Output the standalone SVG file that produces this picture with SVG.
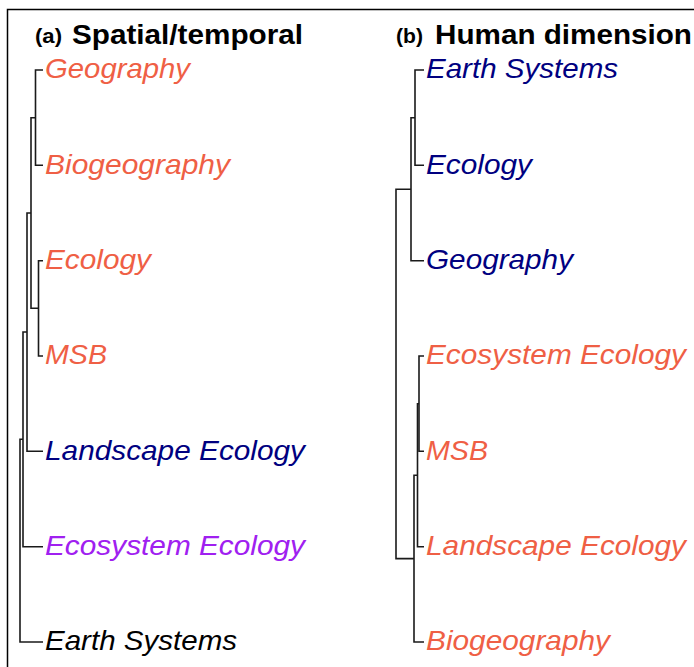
<svg xmlns="http://www.w3.org/2000/svg" width="694" height="667" viewBox="0 0 694 667">
<style>
.lbl{font-family:"Liberation Sans",Arial,sans-serif;font-style:italic;font-size:28px}
.ttl{font-family:"Liberation Sans",Arial,sans-serif;font-weight:bold;font-size:28px;fill:#000}
.sub{font-family:"Liberation Sans",Arial,sans-serif;font-weight:bold;font-size:20px;fill:#000}
.o{fill:#EF5F45}.n{fill:#000080}.p{fill:#A020F0}.k{fill:#000}
.ln{fill:none;stroke:#1a1a1a;stroke-width:1.6}
</style>
<rect width="694" height="667" fill="#fff"/>
<path d="M7.5 667V9.5H694" fill="none" stroke="#000" stroke-width="1.5"/>
<g id="title-a"><text class="sub" x="35" y="43" textLength="27" lengthAdjust="spacingAndGlyphs">(a)</text><text class="ttl" x="72" y="44" textLength="231" lengthAdjust="spacingAndGlyphs">Spatial/temporal</text></g>
<g id="title-b"><text class="sub" x="396" y="43" textLength="27" lengthAdjust="spacingAndGlyphs">(b)</text><text class="ttl" x="435" y="44" textLength="257" lengthAdjust="spacingAndGlyphs">Human dimension</text></g>
<g id="a-geography"><text class="lbl o" x="45" y="78" textLength="145" lengthAdjust="spacingAndGlyphs">Geography</text></g>
<g id="a-biogeography"><text class="lbl o" x="45" y="173.5" textLength="185" lengthAdjust="spacingAndGlyphs">Biogeography</text></g>
<g id="a-ecology"><text class="lbl o" x="45" y="269" textLength="106" lengthAdjust="spacingAndGlyphs">Ecology</text></g>
<g id="a-msb"><text class="lbl o" x="45" y="364" textLength="62" lengthAdjust="spacingAndGlyphs">MSB</text></g>
<g id="a-landscape"><text class="lbl n" x="45" y="459.5" textLength="260" lengthAdjust="spacingAndGlyphs">Landscape Ecology</text></g>
<g id="a-ecosystem"><text class="lbl p" x="45" y="555" textLength="260" lengthAdjust="spacingAndGlyphs">Ecosystem Ecology</text></g>
<g id="a-earth"><text class="lbl k" x="45" y="650" textLength="192" lengthAdjust="spacingAndGlyphs">Earth Systems</text></g>
<g id="b-earth"><text class="lbl n" x="426" y="78" textLength="192" lengthAdjust="spacingAndGlyphs">Earth Systems</text></g>
<g id="b-ecology"><text class="lbl n" x="426" y="173.5" textLength="106" lengthAdjust="spacingAndGlyphs">Ecology</text></g>
<g id="b-geography"><text class="lbl n" x="426" y="269" textLength="147" lengthAdjust="spacingAndGlyphs">Geography</text></g>
<g id="b-ecosystem"><text class="lbl o" x="426" y="364" textLength="260" lengthAdjust="spacingAndGlyphs">Ecosystem Ecology</text></g>
<g id="b-msb"><text class="lbl o" x="426" y="459.5" textLength="62" lengthAdjust="spacingAndGlyphs">MSB</text></g>
<g id="b-landscape"><text class="lbl o" x="426" y="555" textLength="260" lengthAdjust="spacingAndGlyphs">Landscape Ecology</text></g>
<g id="b-biogeography"><text class="lbl o" x="426" y="650" textLength="184" lengthAdjust="spacingAndGlyphs">Biogeography</text></g>
<g id="connectors" class="ln">
<path d="M43 70H35.5V165.3H43"/>
<path d="M43 260.7H38.5V356H43"/>
<path d="M35.5 117.7H31V308.3H38.5"/>
<path d="M31 213H27V451.3H43"/>
<path d="M27 332H23V546.7H43"/>
<path d="M23 439.3H20V642H43"/>
<path d="M424 70H415V165.3H424"/>
<path d="M415 117.7H411V260.7H424"/>
<path d="M424 356H419V451.3H424"/>
<path d="M419 403.7H417.5V546.7H424"/>
<path d="M417.5 475.2H414V642H424"/>
<path d="M411 189.2H396V558.6H414"/>
</g>
</svg>
